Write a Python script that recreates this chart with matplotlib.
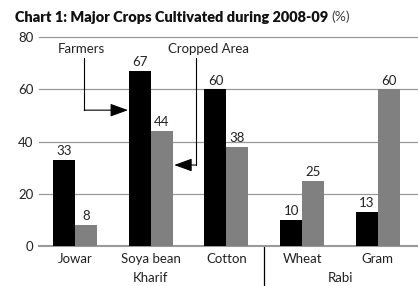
import matplotlib
matplotlib.use("Agg")
import matplotlib.pyplot as plt
import numpy as np

crops = ["Jowar", "Soya bean", "Cotton", "Wheat", "Gram"]
farmers = [33, 67, 60, 10, 13]
cropped_area = [8, 44, 38, 25, 60]
yticks = [0, 20, 40, 60, 80]
seasons = ["Kharif", "Rabi"]

plt.rcParams['font.family'] = ['Lato', 'DejaVu Sans']
FS = 9.5
TC = '#222222'

fig = plt.figure(figsize=(4.18, 2.86), dpi=100)
ax = fig.add_axes([0.0933, 0.1399, 0.9067, 0.7398])

x = np.arange(len(crops))
w = 0.29
ax.bar(x - w/2, farmers, w, color='black', zorder=3)
ax.bar(x + w/2, cropped_area, w, color='#808080', zorder=3)

for xi, v in zip(x - w/2, farmers):
    ax.text(xi, v + 1.0, str(v), ha='center', va='bottom', fontsize=FS, color=TC)
for xi, v in zip(x + w/2, cropped_area):
    ax.text(xi, v + 1.0, str(v), ha='center', va='bottom', fontsize=FS, color=TC)

ax.set_xlim(-0.476, 4.53)
ax.set_ylim(0, 81)
ax.set_yticks(yticks)
ax.set_yticklabels([str(t) for t in yticks], fontsize=FS, color=TC)
for t in yticks[1:]:
    ax.axhline(t, color='#999999', lw=0.9, zorder=1)
ax.tick_params(axis='y', length=0, pad=4)

ax.set_xticks(x)
ax.set_xticklabels(crops, fontsize=FS, color=TC)
ax.tick_params(axis='x', length=0, pad=5)

for s in ['top', 'right', 'left']:
    ax.spines[s].set_visible(False)
ax.spines['bottom'].set_color('#999999')
ax.spines['bottom'].set_linewidth(1.5)

tr = ax.get_xaxis_transform()
ax.plot([2.5, 2.5], [0, -0.19], color='black', lw=0.9, transform=tr, clip_on=False)
ax.text(1, -0.172, seasons[0], transform=tr, ha='center', va='baseline', fontsize=FS, color=TC)
ax.text(3.5, -0.172, seasons[1], transform=tr, ha='center', va='baseline', fontsize=FS, color=TC)

# annotations
ap = dict(arrowstyle='-|>,head_length=1.1,head_width=0.4', color='black', lw=0.8,
          shrinkA=0, shrinkB=0)
ax.text(0.08, 75.5, "Farmers", ha='center', va='center', fontsize=FS, color=TC)
ax.plot([0.12, 0.12], [72, 52], color='black', lw=0.8)
ax.annotate('', xy=(0.70, 52), xytext=(0.12, 52), arrowprops=ap)
ax.text(1.76, 75.5, "Cropped Area", ha='center', va='center', fontsize=FS, color=TC)
ax.plot([1.60, 1.60], [72, 31], color='black', lw=0.8)
ax.annotate('', xy=(1.31, 31), xytext=(1.60, 31), arrowprops=ap)

t1 = fig.text(15/418, 1 - 17/286, "Chart 1: Major Crops Cultivated during 2008-09",
              fontsize=11, fontweight='heavy', ha='left', va='center', color='#111111')
fig.canvas.draw()
bb = t1.get_window_extent()
target = 312.0
t1.set_fontsize(11 * target / bb.width)
fig.canvas.draw()
bb = t1.get_window_extent()
fig.text((bb.x1 + 3) / fig.bbox.width, 1 - 17/286, "(%)", fontsize=10, ha='left', va='center',
         color='#444444')

fig.savefig("out.png", dpi=100)
